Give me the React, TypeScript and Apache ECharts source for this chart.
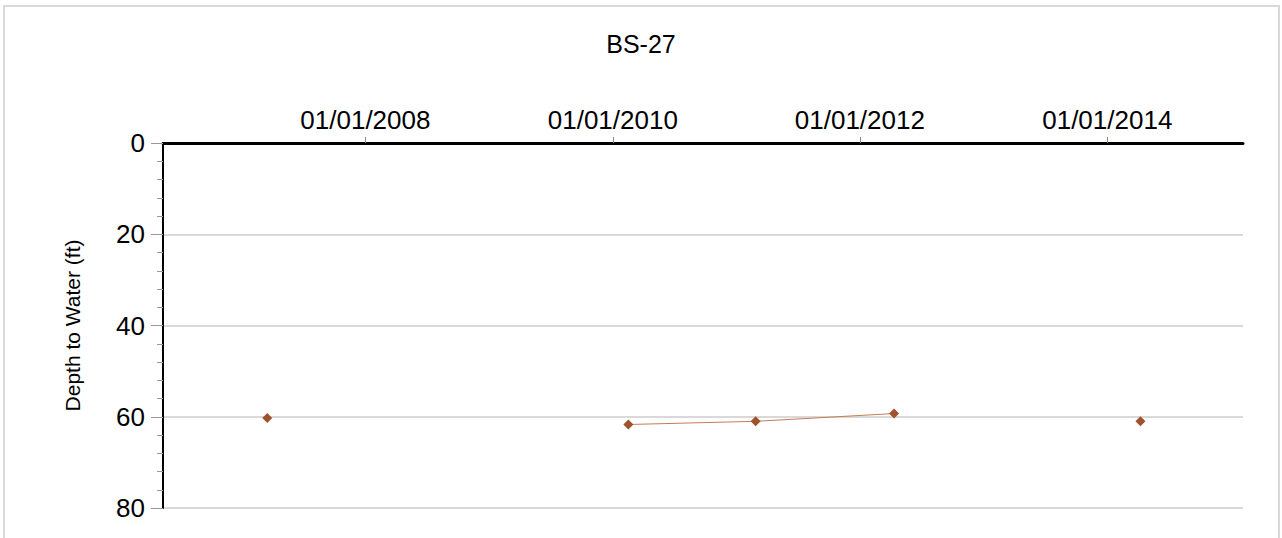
import React, { useEffect, useRef } from "react";
import * as echarts from "echarts";

const chartTitle = "BS-27";
const yAxisName = "Depth to Water (ft)";
const sampleDates = ["2007-03-17", "2010-02-16", "2011-02-27", "2012-04-11", "2014-04-09"];
const depths = [60.3, 61.7, 61.0, 59.3, 61.0];
const segmentIds = [0, 1, 1, 1, 2];
const tickDates = ["2008-01-01", "2010-01-01", "2012-01-01", "2014-01-01"];
const tickLabels = ["01/01/2008", "01/01/2010", "01/01/2012", "01/01/2014"];
const xRange = ["2006-05-13", "2015-02-06"];
const yMin = 0;
const yMax = 80;
const yStep = 20;

const FONT = 'Arial, "Liberation Sans", sans-serif';

export default function App() {
  const ref = useRef<HTMLDivElement>(null);
  useEffect(() => {
    if (!ref.current) return;
    const chart = echarts.init(ref.current, undefined, { renderer: "svg" });
    const ts = (d: string) => Date.parse(d + "T00:00:00Z");
    const tickTs = tickDates.map(ts);

    const groups: Record<number, [number, number][]> = {};
    sampleDates.forEach((d, i) => {
      const g = segmentIds[i];
      (groups[g] = groups[g] || []).push([ts(d), depths[i]]);
    });
    const series = Object.keys(groups).map((k) => ({
      type: "line",
      data: groups[Number(k)],
      symbol: "diamond",
      symbolSize: 10,
      showSymbol: true,
      itemStyle: { color: "#A0522D" },
      lineStyle: { color: "#C47C57", width: 1 },
      emphasis: { disabled: true },
      z: 5,
    }));

    chart.setOption({
      animation: false,
      backgroundColor: "#ffffff",
      title: {
        text: chartTitle,
        left: "center",
        top: 26,
        textStyle: { fontFamily: FONT, fontSize: 25, fontWeight: "normal", color: "#000" },
      },
      graphic: [
        {
          type: "rect",
          shape: { x: 4, y: 6, width: 1275, height: 600 },
          style: { fill: "none", stroke: "#d9d9d9", lineWidth: 2 },
          silent: true,
        },
      ],
      grid: { left: 163, right: 39, top: 143, bottom: 30, containLabel: false },
      xAxis: {
        type: "value",
        position: "top",
        min: ts(xRange[0]),
        max: ts(xRange[1]),
        axisLine: { show: true, onZero: false, lineStyle: { color: "#000", width: 3 } },
        axisTick: {
          show: true,
          customValues: tickTs,
          length: 6,
          lineStyle: { color: "#888", width: 1 },
        },
        axisLabel: {
          customValues: tickTs,
          margin: 10,
          fontFamily: FONT,
          fontSize: 26,
          color: "#000",
          formatter: (v: number) => {
            const i = tickTs.indexOf(v);
            return i >= 0 ? tickLabels[i] : "";
          },
        },
        splitLine: { show: false },
      },
      yAxis: {
        type: "value",
        inverse: true,
        min: yMin,
        max: yMax,
        interval: yStep,
        name: yAxisName,
        nameLocation: "middle",
        nameGap: 80,
        nameRotate: 90,
        nameTextStyle: { fontFamily: FONT, fontSize: 21, color: "#000" },
        axisLine: { show: true, lineStyle: { color: "#000", width: 2 } },
        axisTick: { show: true, length: 12, lineStyle: { color: "#999", width: 1 } },
        minorTick: { show: true, splitNumber: 5, length: 6, lineStyle: { color: "#999", width: 1 } },
        axisLabel: { margin: 18, fontFamily: FONT, fontSize: 26, color: "#000" },
        splitLine: { show: true, lineStyle: { color: "#d9d9d9", width: 2 } },
      },
      series,
    });
    return () => chart.dispose();
  }, []);
  return (
    <div
      ref={ref}
      style={{ position: "fixed", left: 0, top: 0, width: 1282, height: 538, background: "#fff" }}
    />
  );
}
